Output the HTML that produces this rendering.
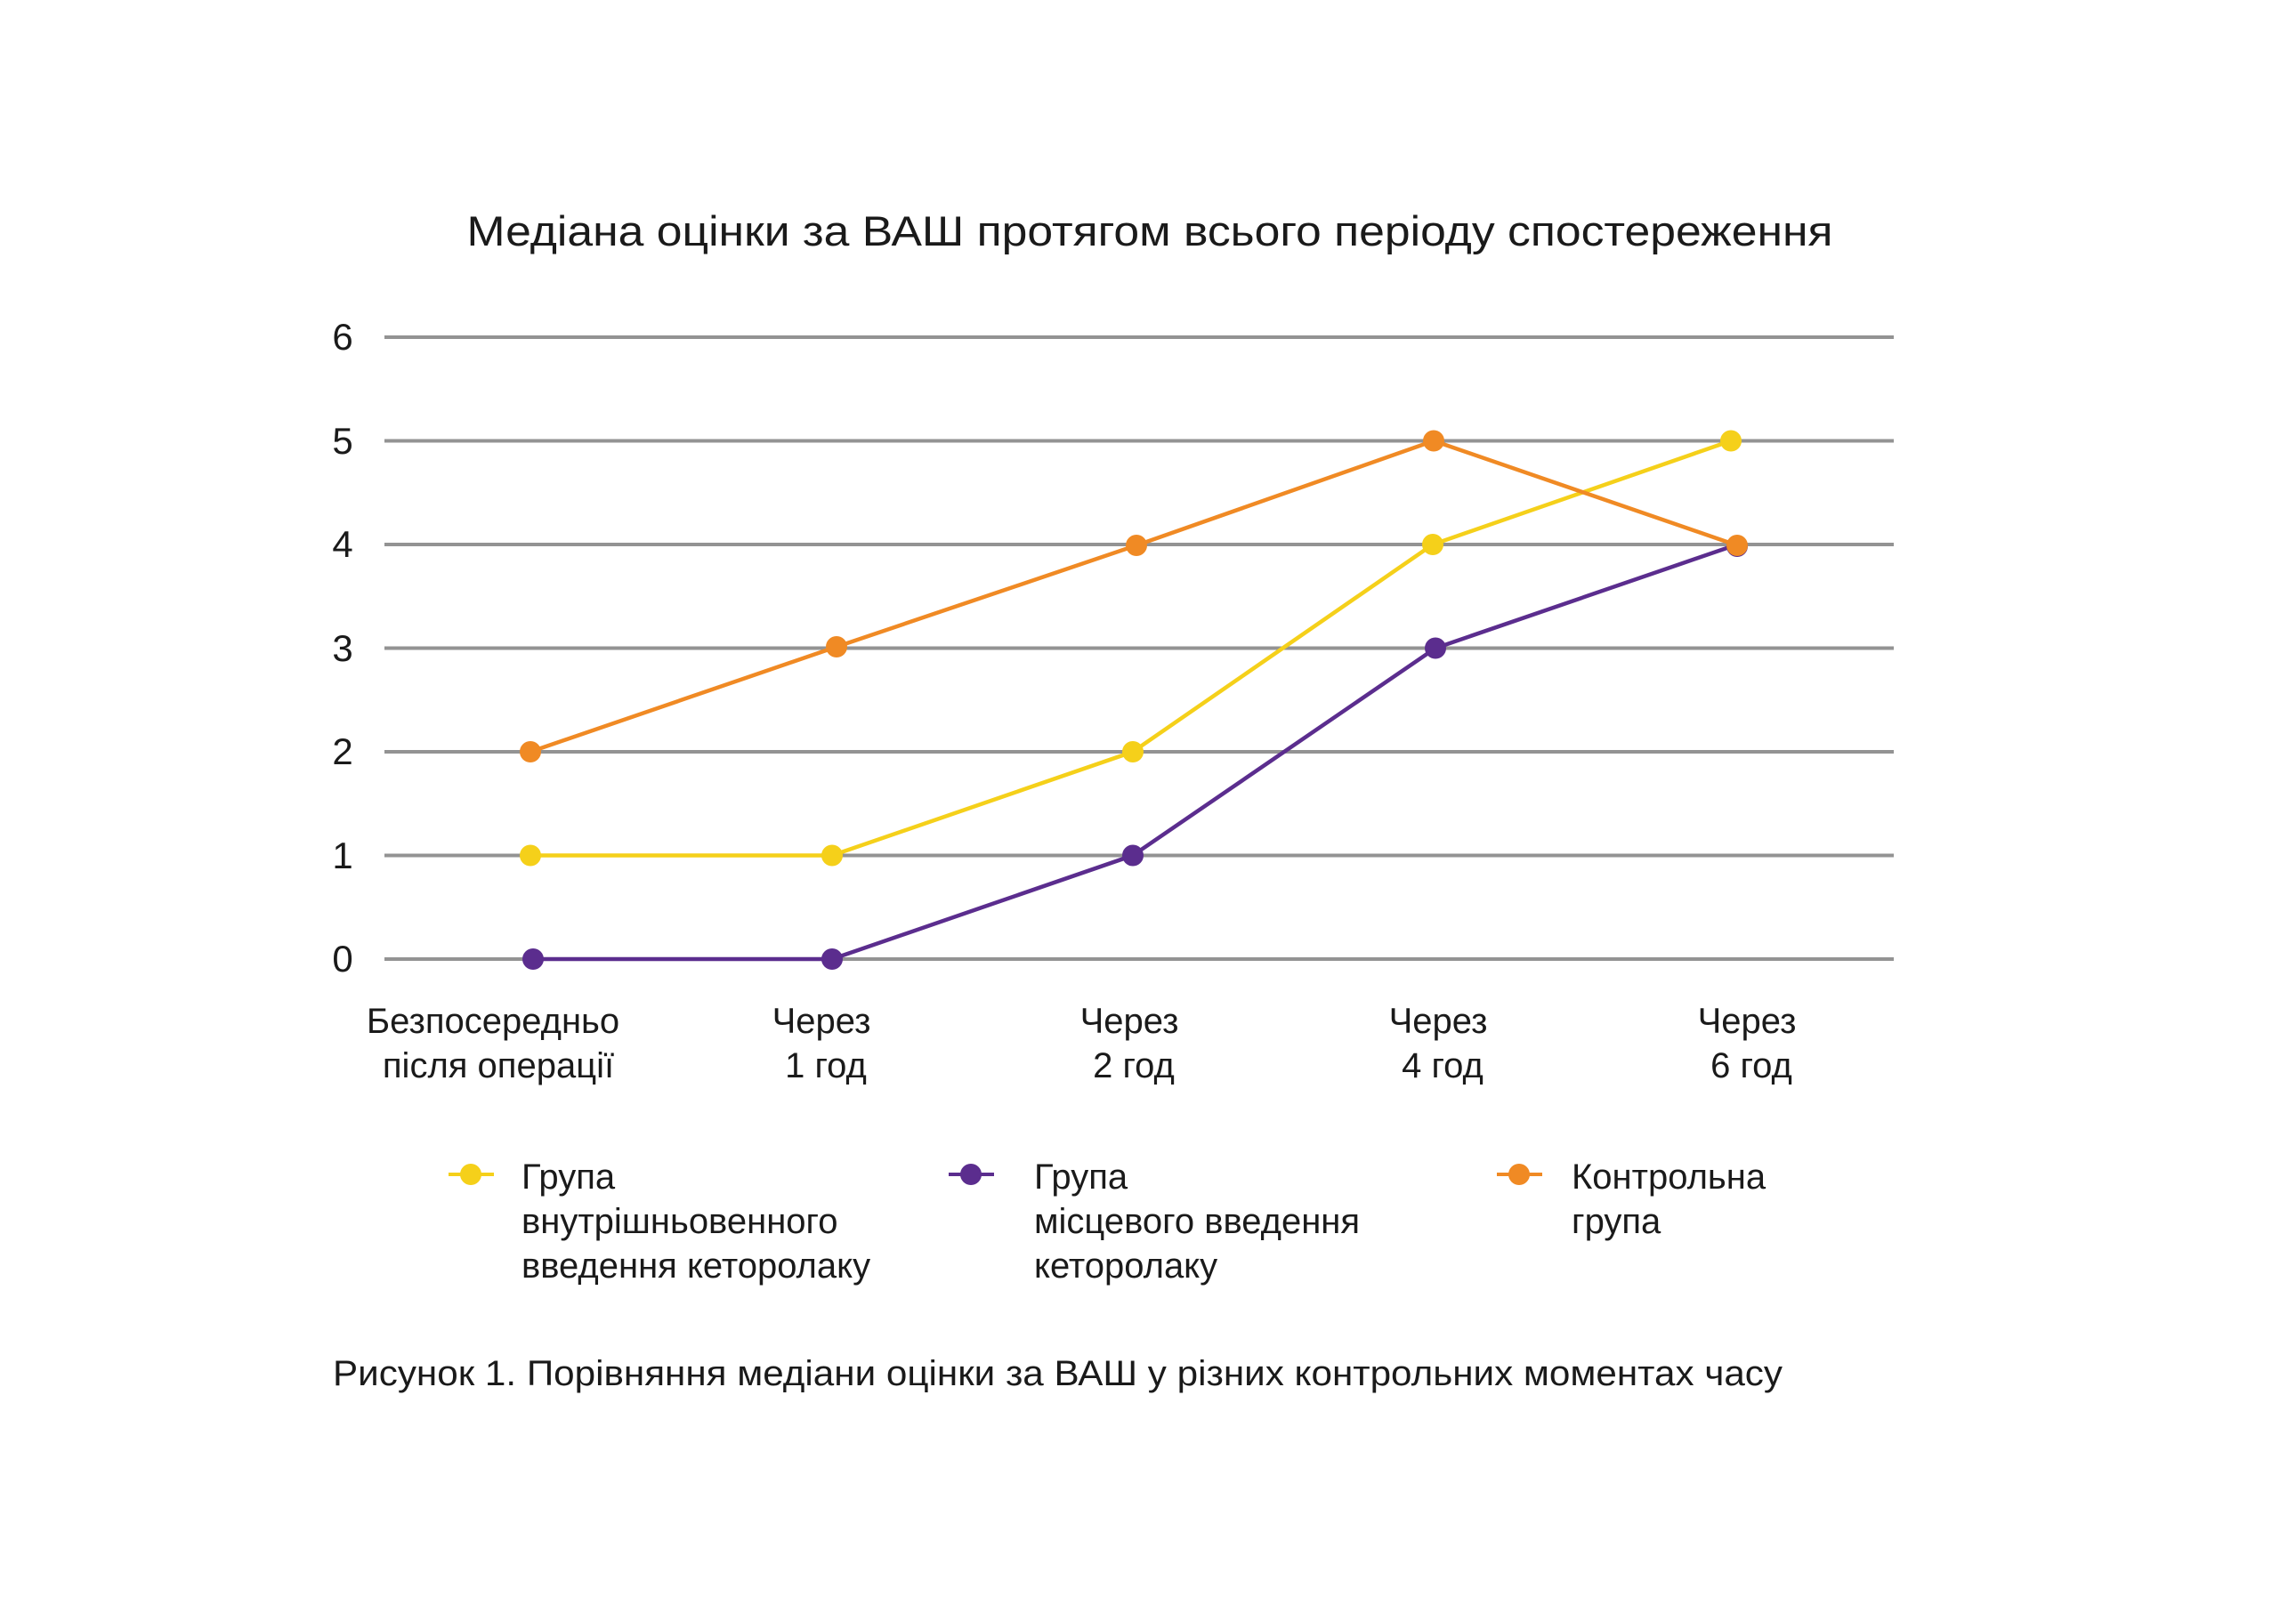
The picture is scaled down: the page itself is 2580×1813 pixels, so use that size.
<!DOCTYPE html>
<html><head><meta charset="utf-8"><style>
html,body{margin:0;padding:0;background:#fff}
svg text{font-family:"Liberation Sans",sans-serif;fill:#1a1a1a}
</style></head><body>
<svg width="2580" height="1808" viewBox="0 0 2580 1808" xmlns="http://www.w3.org/2000/svg">
<rect width="2580" height="1808" fill="#fff"/>
<text x="1292" y="276" font-size="47" text-anchor="middle" textLength="1535" lengthAdjust="spacingAndGlyphs">Медіана оцінки за ВАШ протягом всього періоду спостереження</text>
<g stroke="#939393" stroke-width="4">
<line x1="432" x2="2128" y1="379" y2="379"/>
<line x1="432" x2="2128" y1="495.5" y2="495.5"/>
<line x1="432" x2="2128" y1="612" y2="612"/>
<line x1="432" x2="2128" y1="728.5" y2="728.5"/>
<line x1="432" x2="2128" y1="845" y2="845"/>
<line x1="432" x2="2128" y1="961.5" y2="961.5"/>
<line x1="432" x2="2128" y1="1078" y2="1078"/>
</g>
<g font-size="42" text-anchor="middle">
<text x="385" y="393">6</text><text x="385" y="510">5</text><text x="385" y="626">4</text>
<text x="385" y="743">3</text><text x="385" y="859">2</text><text x="385" y="976">1</text><text x="385" y="1092">0</text>
</g>
<polyline fill="none" stroke="#5B2D8E" stroke-width="4.5" points="599,1078 935,1078 1273,961.5 1613,728.5 1952,612"/>
<polyline fill="none" stroke="#F5D01A" stroke-width="4.5" points="596,961.5 935,961.5 1273,845 1610,612 1945,495.5"/>
<polyline fill="none" stroke="#F08A24" stroke-width="4.5" points="596,845 940,727 1277,613 1611,495.5 1952,613"/>
<g fill="#5B2D8E"><circle cx="599" cy="1078" r="12"/><circle cx="935" cy="1078" r="12"/><circle cx="1273" cy="961.5" r="12"/><circle cx="1613" cy="728.5" r="12"/><circle cx="1952" cy="614" r="12"/></g>
<g fill="#F5D01A"><circle cx="596" cy="961.5" r="12"/><circle cx="935" cy="961.5" r="12"/><circle cx="1273" cy="845" r="12"/><circle cx="1610" cy="612" r="12"/><circle cx="1945" cy="495.5" r="12"/></g>
<g fill="#F08A24"><circle cx="596" cy="845" r="12"/><circle cx="940" cy="727" r="12"/><circle cx="1277" cy="613" r="12"/><circle cx="1611" cy="495.5" r="12"/><circle cx="1952" cy="613" r="12"/></g>
<g font-size="40" text-anchor="middle">
<text x="554" y="1161">Безпосередньо</text><text x="560" y="1211">після операції</text>
<text x="923" y="1161">Через</text><text x="928" y="1211">1 год</text>
<text x="1269" y="1161">Через</text><text x="1274" y="1211">2 год</text>
<text x="1616" y="1161">Через</text><text x="1621" y="1211">4 год</text>
<text x="1963" y="1161">Через</text><text x="1968" y="1211">6 год</text>
</g>
<line x1="504" x2="555" y1="1320" y2="1320" stroke="#F5D01A" stroke-width="4"/><circle cx="529" cy="1320" r="12" fill="#F5D01A"/>
<line x1="1066" x2="1117" y1="1320" y2="1320" stroke="#5B2D8E" stroke-width="4"/><circle cx="1091" cy="1320" r="12" fill="#5B2D8E"/>
<line x1="1682" x2="1733" y1="1320" y2="1320" stroke="#F08A24" stroke-width="4"/><circle cx="1707" cy="1320" r="12" fill="#F08A24"/>
<g font-size="40">
<text x="586" y="1336">Група</text><text x="586" y="1386">внутрішньовенного</text><text x="586" y="1436">введення кеторолаку</text>
<text x="1162" y="1336">Група</text><text x="1162" y="1386">місцевого введення</text><text x="1162" y="1436">кеторолаку</text>
<text x="1766" y="1336">Контрольна</text><text x="1766" y="1386">група</text>
</g>
<text x="374" y="1557" font-size="40" textLength="1629" lengthAdjust="spacingAndGlyphs">Рисунок 1. Порівняння медіани оцінки за ВАШ у різних контрольних моментах часу</text>
</svg>
</body></html>
